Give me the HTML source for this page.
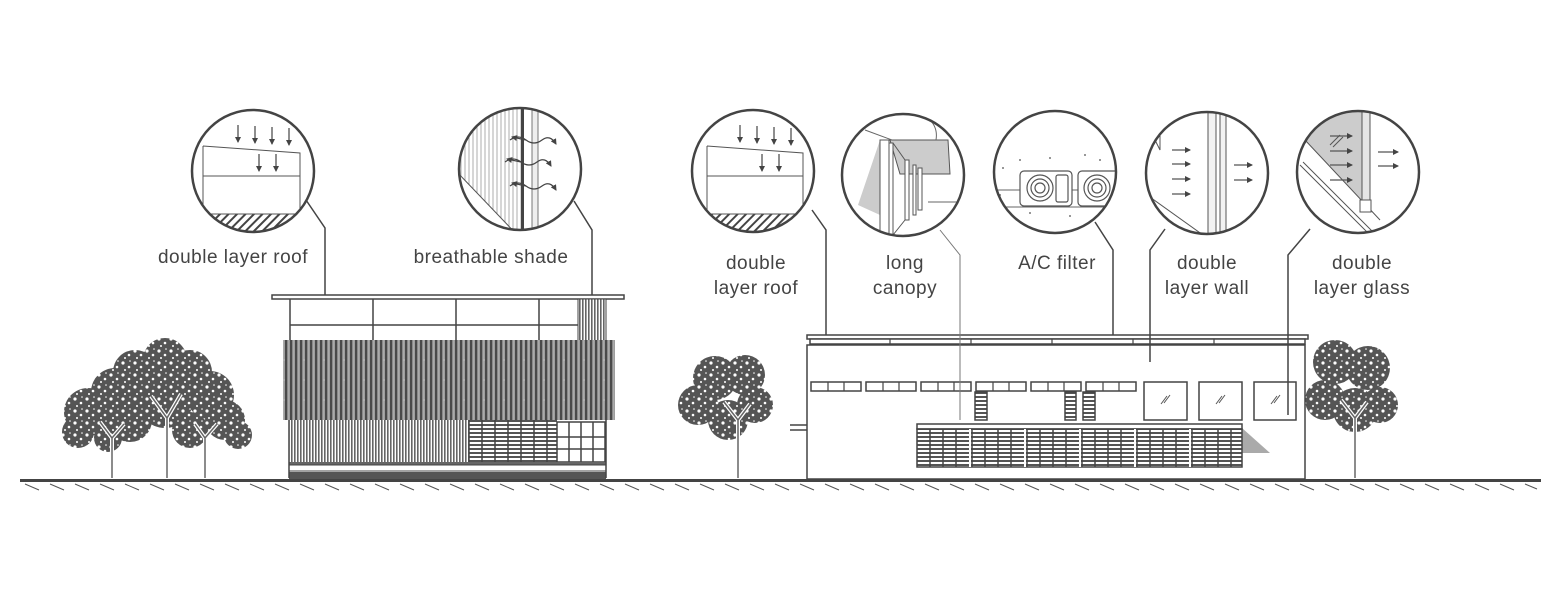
<!DOCTYPE html>
<html><head><meta charset="utf-8"><style>
html,body{margin:0;padding:0;background:#fff;width:1561px;height:591px;overflow:hidden}
svg{display:block}
text{font-family:"Liberation Sans",sans-serif;font-size:19px;fill:#444;text-anchor:middle;letter-spacing:0.5px}
</style></head><body>
<svg width="1561" height="591" viewBox="0 0 1561 591" xmlns="http://www.w3.org/2000/svg">
<defs>
<pattern id="vl" width="3" height="10" patternUnits="userSpaceOnUse"><rect width="3" height="10" fill="#fff"/><rect width="1.6" height="10" fill="#666"/></pattern>
<pattern id="scr" width="5" height="27" patternUnits="userSpaceOnUse"><rect width="5" height="27" fill="#8a8a8a"/><rect x="0" width="2" height="27" fill="#4a4a4a"/><rect x="3.5" width="0.8" height="27" fill="#ccc"/></pattern>
<pattern id="lv" width="10" height="4" patternUnits="userSpaceOnUse"><rect width="10" height="4" fill="#fff"/><rect width="10" height="2" fill="#555"/></pattern>
<pattern id="hatch" width="6" height="6" patternUnits="userSpaceOnUse" patternTransform="rotate(45)"><rect width="6" height="6" fill="#fff"/><rect width="2" height="6" fill="#444"/></pattern>
<pattern id="gh" width="4" height="10" patternUnits="userSpaceOnUse"><line x1="1" y1="0" x2="1" y2="10" stroke="#999" stroke-width="0.8"/></pattern>
<pattern id="leaf" width="12" height="12" patternUnits="userSpaceOnUse"><rect width="12" height="12" fill="#555"/><circle cx="3" cy="3" r="1.6" fill="#fff"/><circle cx="9" cy="7" r="1.3" fill="#fff"/><circle cx="5" cy="10" r="1" fill="#fff"/><circle cx="10" cy="1" r="0.8" fill="#fff"/></pattern>
<marker id="ar" markerWidth="6" markerHeight="6" refX="5" refY="3" orient="auto" markerUnits="userSpaceOnUse"><path d="M0,0 L6,3 L0,6z" fill="#444"/></marker>
<clipPath id="c1"><circle cx="253" cy="171" r="61"/></clipPath>
<clipPath id="c2"><circle cx="520" cy="169" r="61"/></clipPath>
<clipPath id="c3"><circle cx="753" cy="171" r="61"/></clipPath>
<clipPath id="c4"><circle cx="903" cy="175" r="61"/></clipPath>
<clipPath id="c5"><circle cx="1055" cy="172" r="61"/></clipPath>
<clipPath id="c6"><circle cx="1207" cy="173" r="61"/></clipPath>
<clipPath id="c7"><circle cx="1358" cy="172" r="61"/></clipPath>
</defs>

<!-- ground -->
<rect x="20" y="479" width="1521" height="3" fill="#444"/>
<g stroke="#555" stroke-width="1">
<path d="
M25,484l14,6M50,484l14,6M75,484l14,6M100,484l14,6M125,484l14,6M150,484l14,6M175,484l14,6M200,484l14,6M225,484l14,6M250,484l14,6M275,484l14,6M300,484l14,6M325,484l14,6M350,484l14,6M375,484l14,6M400,484l14,6M425,484l14,6M450,484l14,6M475,484l14,6M500,484l14,6M525,484l14,6M550,484l14,6M575,484l14,6M600,484l14,6M625,484l14,6M650,484l14,6M675,484l14,6M700,484l14,6M725,484l14,6M750,484l14,6M775,484l14,6M800,484l14,6M825,484l14,6M850,484l14,6M875,484l14,6M900,484l14,6M925,484l14,6M950,484l14,6M975,484l14,6M1000,484l14,6M1025,484l14,6M1050,484l14,6M1075,484l14,6M1100,484l14,6M1125,484l14,6M1150,484l14,6M1175,484l14,6M1200,484l14,6M1225,484l14,6M1250,484l14,6M1275,484l14,6M1300,484l14,6M1325,484l14,6M1350,484l14,6M1375,484l14,6M1400,484l14,6M1425,484l14,6M1450,484l14,6M1475,484l14,6M1500,484l14,6M1525,484l12,5"/>
</g>

<!-- trees left -->
<g fill="url(#leaf)">
<circle cx="88" cy="412" r="24"/><circle cx="78" cy="432" r="16"/><circle cx="115" cy="392" r="24"/>
<circle cx="135" cy="372" r="22"/><circle cx="165" cy="360" r="22"/><circle cx="190" cy="372" r="22"/><circle cx="210" cy="395" r="24"/>
<circle cx="165" cy="400" r="28"/><circle cx="130" cy="420" r="22"/><circle cx="225" cy="420" r="20"/><circle cx="238" cy="435" r="14"/><circle cx="108" cy="438" r="14"/><circle cx="190" cy="430" r="18"/>
</g>
<g stroke="#fff" stroke-width="4" fill="none"><path d="M112,478 v-40 l-12,-16 M112,438 l12,-14"/><path d="M167,478 v-60 l-16,-22 M167,418 l14,-24"/><path d="M205,478 v-40 l-10,-14 M205,438 l12,-14"/></g>
<g stroke="#666" stroke-width="1.5" fill="none"><path d="M112,478 v-40 l-12,-16 M112,438 l12,-14"/><path d="M167,478 v-60 l-16,-22 M167,418 l14,-24"/><path d="M205,478 v-40 l-10,-14 M205,438 l12,-14"/></g>
<!-- middle tree -->
<g fill="url(#leaf)"><circle cx="715" cy="378" r="22"/><circle cx="745" cy="375" r="20"/><circle cx="698" cy="405" r="20"/><circle cx="755" cy="405" r="18"/><circle cx="728" cy="420" r="20"/></g>
<g stroke="#fff" stroke-width="4" fill="none"><path d="M738,478 v-58 l-14,-18 M738,420 l12,-16"/></g>
<g stroke="#666" stroke-width="1.5" fill="none"><path d="M738,478 v-58 l-14,-18 M738,420 l12,-16"/></g>
<!-- right tree -->
<g fill="url(#leaf)"><circle cx="1335" cy="362" r="22"/><circle cx="1368" cy="368" r="22"/><circle cx="1325" cy="400" r="20"/><circle cx="1380" cy="405" r="18"/><circle cx="1355" cy="410" r="22"/></g>
<g stroke="#fff" stroke-width="4" fill="none"><path d="M1355,478 v-60 l-14,-18 M1355,418 l12,-16"/></g>
<g stroke="#666" stroke-width="1.5" fill="none"><path d="M1355,478 v-60 l-14,-18 M1355,418 l12,-16"/></g>

<!-- left building -->
<g stroke="#444" fill="none">
<rect x="272" y="295" width="352" height="4" fill="#fff" stroke-width="1.5"/>
<path d="M290,299 v42 M373,299 v42 M456,299 v42 M539,299 v42 M290,325 h288" stroke-width="1.5"/>
<rect x="578" y="299" width="28" height="42" fill="url(#vl)" stroke-width="1"/>
</g>
<rect x="283" y="340" width="332" height="80" fill="url(#scr)"/>
<path d="M283,360 h332 M283,380 h332 M283,400 h332" stroke="#bbb" stroke-width="1" stroke-dasharray="2 18" />
<rect x="289" y="420" width="180" height="42" fill="url(#vl)"/>
<rect x="469" y="420" width="88" height="42" fill="url(#lv)"/>
<g stroke="#444" stroke-width="1.5" fill="#fff"><rect x="557" y="422" width="48" height="40"/><path d="M569,422v40M581,422v40M593,422v40M557,437h48M557,449h48" fill="none"/></g>
<path d="M469,420 v42 M482,420v42 M495,420v42 M508,420v42 M521,420v42 M534,420v42 M547,420v42" stroke="#444" stroke-width="1.5"/>
<rect x="289" y="462" width="317" height="3" fill="#666"/>
<rect x="289" y="465" width="317" height="6" fill="#fff" stroke="#444" stroke-width="1"/>
<rect x="289" y="472" width="317" height="7" fill="#555"/>
<path d="M289,420 v58 M606,420 v58" stroke="#444" stroke-width="1.5"/>

<!-- right building -->
<g stroke="#444" stroke-width="1.5" fill="#fff">
<rect x="807" y="345" width="498" height="134"/>
<rect x="807" y="335" width="501" height="4"/>
<rect x="810" y="339" width="495" height="5"/>
</g>
<path d="M890,339v5 M971,339v5 M1052,339v5 M1133,339v5 M1214,339v5" stroke="#444" stroke-width="1.2"/>
<g stroke="#444" stroke-width="1.5" fill="#fff">
<rect x="811" y="382" width="50" height="9"/><rect x="866" y="382" width="50" height="9"/><rect x="921" y="382" width="50" height="9"/>
<rect x="976" y="382" width="50" height="9"/><rect x="1031" y="382" width="50" height="9"/><rect x="1086" y="382" width="50" height="9"/>
<rect x="1144" y="382" width="43" height="38"/><rect x="1199" y="382" width="43" height="38"/><rect x="1254" y="382" width="42" height="38"/>
</g>
<path d="M828,382v9M844,382v9M883,382v9M899,382v9M938,382v9M954,382v9M993,382v9M1009,382v9M1048,382v9M1064,382v9M1103,382v9M1119,382v9" stroke="#444" stroke-width="1.2"/>
<path d="M1167,396l-6,8M1170,395l-6,8M1222,396l-6,8M1225,395l-6,8M1277,396l-6,8M1280,395l-6,8" stroke="#555" stroke-width="1"/>
<g fill="url(#lv)" stroke="#444" stroke-width="1.5"><rect x="975" y="392" width="12" height="28"/><rect x="1065" y="392" width="11" height="28"/><rect x="1083" y="392" width="12" height="28"/></g>
<polygon points="1242,428 1270,453 1242,453" fill="#aaa"/>
<polygon points="919,432 935,455 919,455" fill="#aaa"/>
<rect x="917" y="424" width="325" height="5" fill="#fff" stroke="#444" stroke-width="1.5"/>
<rect x="917" y="429" width="325" height="38" fill="url(#lv)" stroke="#444" stroke-width="1.5"/>
<path d="M930,429v38M943,429v38M956,429v38M972,429v38M985,429v38M998,429v38M1011,429v38M1027,429v38M1040,429v38M1053,429v38M1066,429v38M1082,429v38M1095,429v38M1108,429v38M1121,429v38M1137,429v38M1150,429v38M1163,429v38M1176,429v38M1192,429v38M1205,429v38M1218,429v38M1231,429v38" stroke="#444" stroke-width="1.5"/>
<path d="M970,429v38M1025,429v38M1080,429v38M1135,429v38M1190,429v38" stroke="#fff" stroke-width="2"/>
<path d="M790,425 h17 M790,430 h17" stroke="#444" stroke-width="1.5"/>

<!-- leader lines -->
<g stroke="#444" stroke-width="1.5" fill="none">
<path d="M306,200 L325,228 V295"/>
<path d="M574,201 L592,230 V295"/>
<path d="M812,210 L826,230 V335"/>
<path d="M1095,222 L1113,250 V335"/>
<path d="M1165,229 L1150,250 V362"/>
<path d="M1310,229 L1288,255 V415"/>
</g>
<path d="M940,230 L960,255 V420" stroke="#777" stroke-width="1" fill="none"/>

<!-- circle 1 -->
<g clip-path="url(#c1)">
<rect x="190" y="214" width="130" height="25" fill="url(#hatch)"/>
<path d="M203,146 L300,153 V214 M203,146 V214 M203,176 H300 M190,214 H320" stroke="#555" stroke-width="1" fill="none"/>
</g>
<g stroke="#444" stroke-width="1.2" marker-end="url(#ar)">
<line x1="238" y1="125" x2="238" y2="142"/><line x1="255" y1="126" x2="255" y2="143"/><line x1="272" y1="127" x2="272" y2="144"/><line x1="289" y1="128" x2="289" y2="145"/>
<line x1="259" y1="154" x2="259" y2="171"/><line x1="276" y1="154" x2="276" y2="171"/></g>
<circle cx="253" cy="171" r="61" fill="none" stroke="#444" stroke-width="2.5"/>

<!-- circle 2 -->
<g clip-path="url(#c2)">
<rect x="455" y="100" width="66" height="140" fill="url(#gh)"/>
<polygon points="456,171 522,240 456,240" fill="#fff"/>
<path d="M456,171 L522,240" stroke="#555" stroke-width="1"/>
<rect x="521" y="100" width="3" height="140" fill="#444"/>
<rect x="532" y="100" width="6" height="140" fill="#eee" stroke="#777" stroke-width="1"/>
</g>
<g stroke="#444" stroke-width="1.2" fill="none">
<path d="M510,140 q8,-6 16,0 t16,0 t14,4" marker-end="url(#ar)"/><path d="M505,162 q8,-6 16,0 t16,0 t14,4" marker-end="url(#ar)"/><path d="M510,186 q8,-6 16,0 t16,0 t14,4" marker-end="url(#ar)"/>
<path d="M526,140 l-14,-3" marker-end="url(#ar)"/><path d="M521,162 l-14,-3" marker-end="url(#ar)"/><path d="M526,186 l-14,-3" marker-end="url(#ar)"/>
</g>
<circle cx="520" cy="169" r="61" fill="none" stroke="#444" stroke-width="2.5"/>

<!-- circle 3 -->
<g clip-path="url(#c3)">
<rect x="690" y="214" width="130" height="25" fill="url(#hatch)"/>
<path d="M707,146 L803,153 V214 M707,146 V214 M707,176 H803 M690,214 H820" stroke="#555" stroke-width="1" fill="none"/>
</g>
<g stroke="#444" stroke-width="1.2" marker-end="url(#ar)">
<line x1="740" y1="125" x2="740" y2="142"/><line x1="757" y1="126" x2="757" y2="143"/><line x1="774" y1="127" x2="774" y2="144"/><line x1="791" y1="128" x2="791" y2="145"/>
<line x1="762" y1="154" x2="762" y2="171"/><line x1="779" y1="154" x2="779" y2="171"/></g>
<circle cx="753" cy="171" r="61" fill="none" stroke="#444" stroke-width="2.5"/>

<!-- circle 4 canopy -->
<g clip-path="url(#c4)">
<polygon points="880,140 858,205 880,215" fill="#ccc"/>
<polygon points="890,140 948,140 950,174 900,174" fill="#ccc" stroke="#555" stroke-width="1"/>
<path d="M865,130 L892,140 M930,120 q8,8 6,20 M928,202 H960" stroke="#666" stroke-width="1" fill="none"/>
<g fill="#fff" stroke="#555" stroke-width="1">
<rect x="880" y="140" width="9" height="100"/><rect x="889" y="143" width="4" height="92"/>
<rect x="905" y="160" width="4" height="60"/><rect x="913" y="165" width="3" height="50"/><rect x="918" y="168" width="4" height="42"/>
</g>
<path d="M893,143 L905,160 M893,235 L905,220" stroke="#555" stroke-width="1"/>
</g>
<circle cx="903" cy="175" r="61" fill="none" stroke="#444" stroke-width="2.5"/>

<!-- circle 5 AC -->
<g clip-path="url(#c5)">
<path d="M990,190 H1120 M990,207 H1120" stroke="#666" stroke-width="1"/>
<g fill="#fff" stroke="#555" stroke-width="1.2">
<rect x="1020" y="171" width="52" height="35" rx="4"/><rect x="1078" y="171" width="46" height="35" rx="4"/>
<circle cx="1040" cy="188" r="13"/><circle cx="1040" cy="188" r="9"/><circle cx="1040" cy="188" r="5"/>
<circle cx="1097" cy="188" r="13"/><circle cx="1097" cy="188" r="9"/><circle cx="1097" cy="188" r="5"/>
<rect x="1056" y="175" width="12" height="27" rx="2"/>
</g>
<g fill="#777"><circle cx="1003" cy="168" r="1"/><circle cx="1020" cy="160" r="1"/><circle cx="1050" cy="158" r="1"/><circle cx="1085" cy="155" r="1"/><circle cx="1100" cy="160" r="1"/><circle cx="1000" cy="195" r="1"/><circle cx="1030" cy="213" r="1"/><circle cx="1070" cy="216" r="1"/><circle cx="1100" cy="213" r="1"/></g>
</g>
<circle cx="1055" cy="172" r="61" fill="none" stroke="#444" stroke-width="2.5"/>

<!-- circle 6 wall -->
<g clip-path="url(#c6)">
<path d="M1140,190 L1210,240" stroke="#555" stroke-width="1"/>
<path d="M1150,130 L1160,150 V110" stroke="#555" stroke-width="1" fill="none"/>
<rect x="1208" y="110" width="8" height="130" fill="#f2f2f2" stroke="#555" stroke-width="1"/>
<rect x="1220" y="110" width="6" height="130" fill="#f2f2f2" stroke="#555" stroke-width="1"/>
</g>
<g stroke="#555" stroke-width="1.2" marker-end="url(#ar)">
<line x1="1172" y1="150" x2="1190" y2="150"/><line x1="1172" y1="164" x2="1190" y2="164"/><line x1="1172" y1="179" x2="1190" y2="179"/><line x1="1172" y1="194" x2="1190" y2="194"/>
<line x1="1234" y1="165" x2="1252" y2="165"/><line x1="1234" y1="180" x2="1252" y2="180"/></g>
<circle cx="1207" cy="173" r="61" fill="none" stroke="#444" stroke-width="2.5"/>

<!-- circle 7 glass -->
<g clip-path="url(#c7)">
<polygon points="1300,110 1362,110 1362,200 1305,140" fill="#ccc"/>
<path d="M1305,140 L1380,220 M1300,165 L1380,245 M1303,162 L1383,242" stroke="#555" stroke-width="1"/>
<rect x="1362" y="110" width="8" height="100" fill="#e5e5e5" stroke="#555" stroke-width="1"/>
<rect x="1360" y="200" width="11" height="12" fill="#fff" stroke="#555" stroke-width="1"/>
</g>
<path d="M1330,145 l10,-10 M1333,147 l10,-10" stroke="#555" stroke-width="1"/>
<g stroke="#555" stroke-width="1.2" marker-end="url(#ar)">
<line x1="1330" y1="136" x2="1352" y2="136"/><line x1="1330" y1="151" x2="1352" y2="151"/><line x1="1330" y1="165" x2="1352" y2="165"/><line x1="1330" y1="180" x2="1352" y2="180"/>
<line x1="1378" y1="152" x2="1398" y2="152"/><line x1="1378" y1="166" x2="1398" y2="166"/></g>
<circle cx="1358" cy="172" r="61" fill="none" stroke="#444" stroke-width="2.5"/>

<!-- labels -->
<text x="233" y="263">double layer roof</text>
<text x="491" y="263">breathable shade</text>
<text x="756" y="269">double</text><text x="756" y="294">layer roof</text>
<text x="905" y="269">long</text><text x="905" y="294">canopy</text>
<text x="1057" y="269">A/C filter</text>
<text x="1207" y="269">double</text><text x="1207" y="294">layer wall</text>
<text x="1362" y="269">double</text><text x="1362" y="294">layer glass</text>
</svg>
</body></html>
